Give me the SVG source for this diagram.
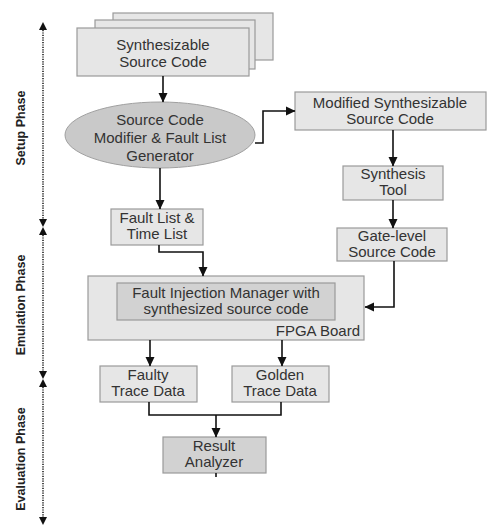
<svg xmlns="http://www.w3.org/2000/svg" width="488" height="527" viewBox="0 0 488 527">
<style>
.box{fill:#e6e6e6;stroke:#9a9a9a;stroke-width:1.2}
.dark{fill:#d2d2d2;stroke:#9a9a9a;stroke-width:1.2}
.ell{fill:#c9c9c9;stroke:#a0a0a0;stroke-width:1}
text{font-family:"Liberation Sans",Arial,sans-serif;font-size:15px;fill:#333;text-anchor:middle}
.ph{font-size:12.5px;font-weight:bold;fill:#222}
.c{fill:none;stroke:#111;stroke-width:1.6}
.dot{fill:none;stroke:#222;stroke-width:1.6;stroke-dasharray:1.2 1.2}
</style>
<defs>
<marker id="a" markerWidth="10" markerHeight="10" refX="9" refY="5" orient="auto" markerUnits="userSpaceOnUse">
<path d="M0,0.5 L9.5,5 L0,9.5 Z" fill="#111"/>
</marker>
</defs>
<g id="phases">
<path class="dot" d="M43,30 V219" />
<path class="dot" d="M43,235 V371" />
<path class="dot" d="M43,387 V517" />
<path d="M39,30 L43,22 L47,30 Z M39,219 L43,227 L47,219 Z M39,235 L43,227 L47,235 Z M39,371 L43,379 L47,371 Z M39,387 L43,379 L47,387 Z M39,517 L43,525 L47,517 Z" fill="#111"/>
<text class="ph" transform="translate(25,128) rotate(-90)">Setup Phase</text>
<text class="ph" transform="translate(25,305) rotate(-90)">Emulation Phase</text>
<text class="ph" transform="translate(25,459) rotate(-90)">Evaluation Phase</text>
</g>
<g id="src">
<rect class="box" x="113" y="13" width="160" height="47"/>
<rect class="box" x="95" y="20" width="160" height="49"/>
<rect class="box" x="77" y="28" width="172" height="48"/>
<text x="163" y="50">Synthesizable</text>
<text x="163" y="67">Source Code</text>
</g>
<g id="modifier">
<ellipse class="ell" cx="160" cy="135" rx="95" ry="33"/>
<text x="160" y="125">Source Code</text>
<text x="160" y="143">Modifier &amp; Fault List</text>
<text x="160" y="161">Generator</text>
</g>
<g id="modified">
<rect class="box" x="295" y="92" width="191" height="38"/>
<text x="390" y="108">Modified Synthesizable</text>
<text x="390" y="124">Source Code</text>
</g>
<g id="synth">
<rect class="box" x="343" y="166" width="100" height="34"/>
<text x="393" y="179">Synthesis</text>
<text x="393" y="195">Tool</text>
</g>
<g id="gate">
<rect class="box" x="337" y="228" width="110" height="33"/>
<text x="392" y="241">Gate-level</text>
<text x="392" y="257">Source Code</text>
</g>
<g id="faultlist">
<rect class="box" x="111" y="209" width="92" height="36"/>
<text x="157" y="223">Fault List &amp;</text>
<text x="157" y="239">Time List</text>
</g>
<g id="fpga">
<rect class="box" x="88" y="276" width="276" height="64"/>
<rect class="dark" x="117" y="283" width="218" height="37"/>
<text x="226" y="298">Fault Injection Manager with</text>
<text x="226" y="314">synthesized source code</text>
<text x="360" y="336" style="text-anchor:end">FPGA Board</text>
</g>
<g id="faulty">
<rect class="box" x="100" y="366" width="97" height="36"/>
<text x="148" y="380">Faulty</text>
<text x="148" y="396">Trace Data</text>
</g>
<g id="golden">
<rect class="box" x="232" y="366" width="97" height="36"/>
<text x="280" y="380">Golden</text>
<text x="280" y="396">Trace Data</text>
</g>
<g id="result">
<rect class="dark" x="163" y="437" width="103" height="36"/>
<text x="214" y="451">Result</text>
<text x="214" y="467">Analyzer</text>
</g>
<g id="connectors">
<path class="c" d="M163,76 V102" marker-end="url(#a)"/>
<path class="c" d="M160,168 V209" marker-end="url(#a)"/>
<path class="c" d="M255,143 H263 V111 H295" marker-end="url(#a)"/>
<path class="c" d="M393,130 V166" marker-end="url(#a)"/>
<path class="c" d="M393,200 V228" marker-end="url(#a)"/>
<path class="c" d="M394,261 V307 H365" marker-end="url(#a)"/>
<path class="c" d="M159,245 V252 H203 V276" marker-end="url(#a)"/>
<path class="c" d="M150,340 V366" marker-end="url(#a)"/>
<path class="c" d="M282,340 V366" marker-end="url(#a)"/>
<path class="c" d="M149,402 V415 H281 V402"/>
<path class="c" d="M216,415 V437" marker-end="url(#a)"/>
<path class="c" d="M216,473 V477"/>
</g>
</svg>
